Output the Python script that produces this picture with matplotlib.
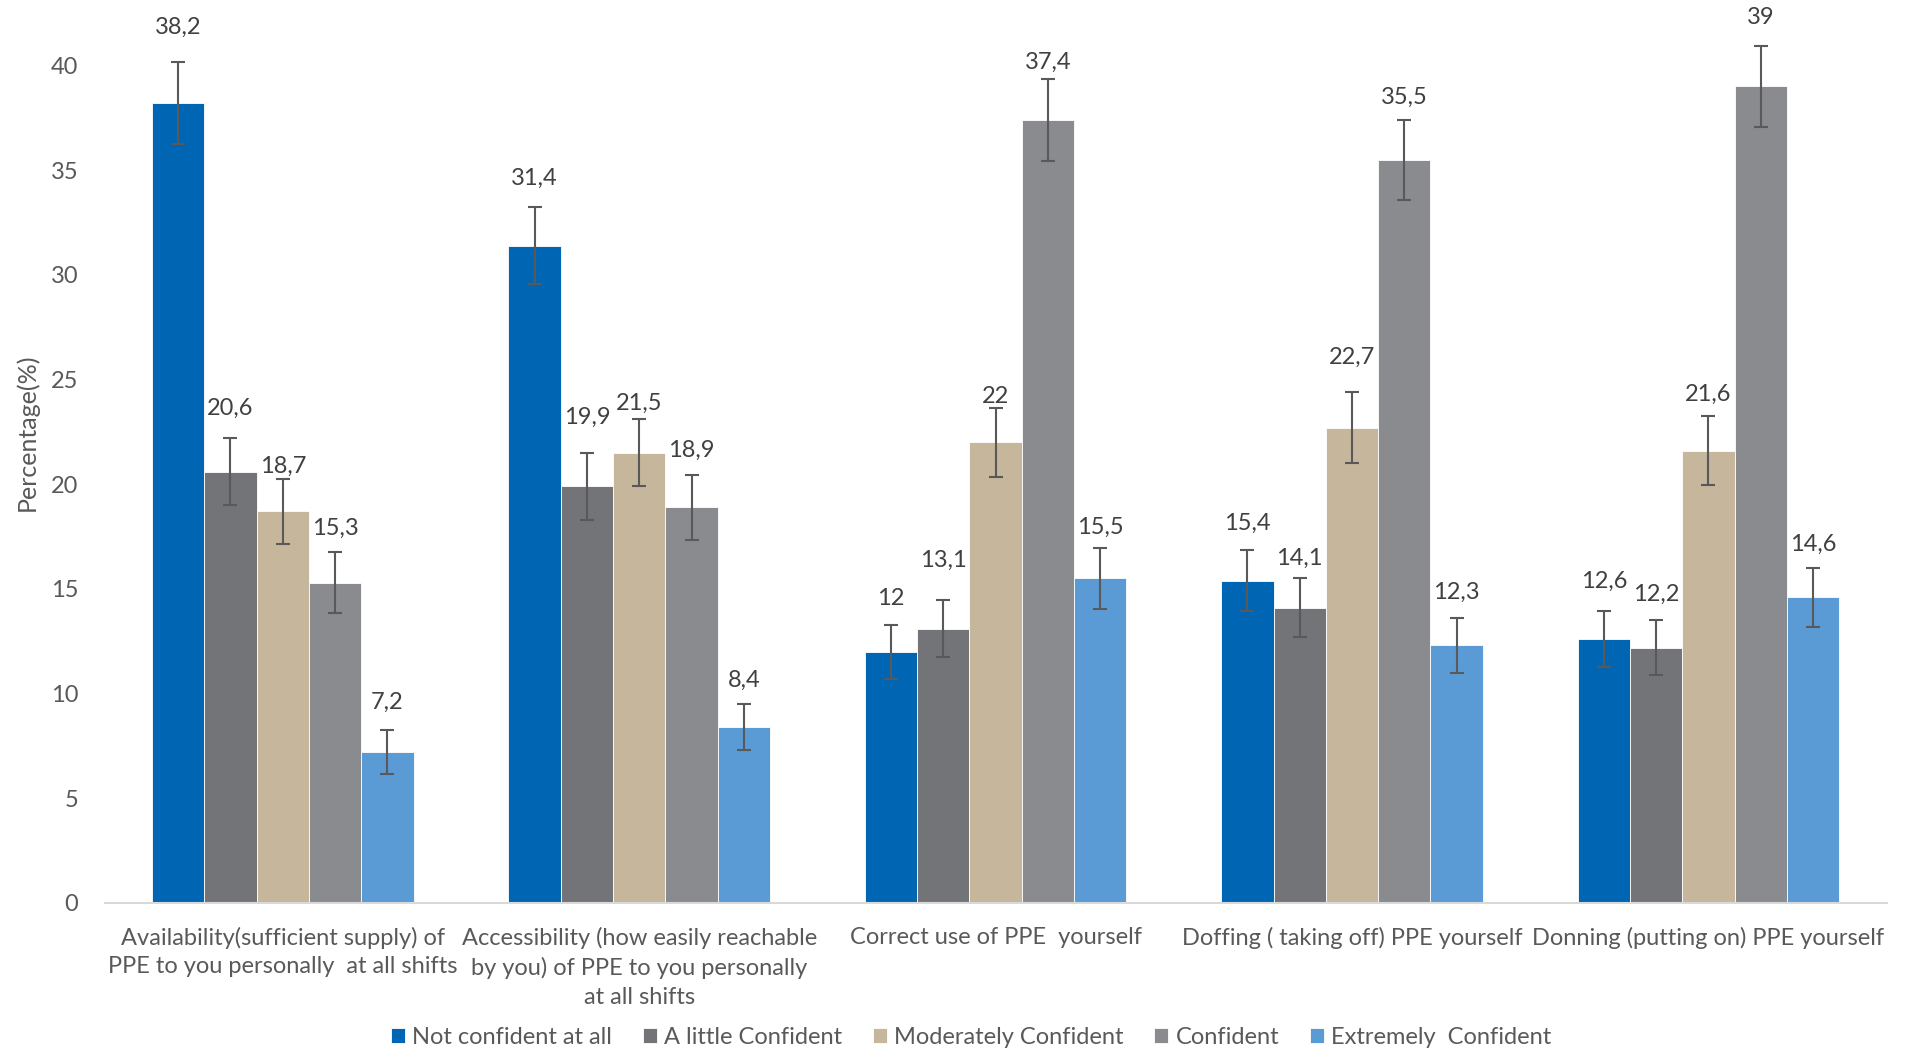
import numpy as np
import matplotlib.pyplot as plt

plt.rcParams["font.family"] = ["Lato", "DejaVu Sans"]

categories = [
    "Availability(sufficient supply) of\nPPE to you personally  at all shifts",
    "Accessibility (how easily reachable\nby you) of PPE to you personally\nat all shifts",
    "Correct use of PPE  yourself",
    "Doffing ( taking off) PPE yourself",
    "Donning (putting on) PPE yourself",
]
series_names = [
    "Not confident at all",
    "A little Confident",
    "Moderately Confident",
    "Confident",
    "Extremely  Confident",
]
not_confident = [38.2, 31.4, 12, 15.4, 12.6]
a_little = [20.6, 19.9, 13.1, 14.1, 12.2]
moderately = [18.7, 21.5, 22, 22.7, 21.6]
confident = [15.3, 18.9, 37.4, 35.5, 39]
extremely = [7.2, 8.4, 15.5, 12.3, 14.6]

# error bar half-widths
err_not_confident = [1.95, 1.85, 1.3, 1.45, 1.35]
err_a_little = [1.6, 1.6, 1.35, 1.4, 1.3]
err_moderately = [1.55, 1.6, 1.65, 1.7, 1.65]
err_confident = [1.45, 1.55, 1.95, 1.9, 1.95]
err_extremely = [1.05, 1.1, 1.45, 1.3, 1.4]

colors = ["#0066b3", "#737477", "#c5b69c", "#8a8b8f", "#5b9bd5"]
values = [not_confident, a_little, moderately, confident, extremely]
errors = [err_not_confident, err_a_little, err_moderately, err_confident, err_extremely]

# label gap above the error cap (pixels), labels were hand-placed in the original
label_gap = [
    [35, 29, 26, 27, 30],
    [30, 36, 40, 20, 26],
    [13, 16, 11, 35, 22],
    [24, 24, 17, 23, 28],
    [28, 24, 21, 26, 24],
]

fig = plt.figure(figsize=(19.08, 10.49), dpi=100)
ax = fig.add_axes([0.0548, 0.1392, 0.934, 0.861])

x = np.arange(len(categories))
width = 0.1468
text_color = "#404040"

for i, (vals, errs, name, col) in enumerate(zip(values, errors, series_names, colors)):
    pos = x + (i - 2) * width
    ax.bar(pos, vals, width, color=col, label=name, edgecolor="white", linewidth=0.6)
    ax.errorbar(pos, vals, yerr=errs, fmt="none", ecolor="#595959",
                elinewidth=1.5, capsize=5, capthick=1.5)
    for px, v, e, g in zip(pos, vals, errs, label_gap[i]):
        lbl = ("%g" % v).replace(".", ",")
        ax.annotate(lbl, (px, v + e), xytext=(0, g * 0.72), textcoords="offset points",
                    ha="center", va="center", fontsize=17, color=text_color,
                    annotation_clip=False)

ax.set_xlim(-0.5, 4.5)
ax.set_ylim(0, 43.14)
ax.set_yticks(np.arange(0, 41, 5))
ax.set_xticks(x)
ax.set_xticklabels(categories, fontsize=17, color="#595959", linespacing=1.45)
ax.tick_params(axis="x", length=0, pad=17)
ax.tick_params(axis="y", length=0, pad=19, labelsize=17, labelcolor="#595959")

for s in ["top", "right", "left"]:
    ax.spines[s].set_visible(False)
ax.spines["bottom"].set_color("#d9d9d9")
ax.spines["bottom"].set_linewidth(1.5)

fig.text(27 / 1908, 1 - 432 / 1049, "Percentage(%)", rotation=90, ha="center",
         va="center", fontsize=18, color="#595959")

fig.legend(loc="center", bbox_to_anchor=(971 / 1908, 1 - 1037 / 1049), ncol=5,
           frameon=False, fontsize=17, handlelength=0.6, handleheight=0.6,
           handletextpad=0.3, columnspacing=1.3, labelcolor="#595959")

fig.savefig("out.png", dpi=100)
